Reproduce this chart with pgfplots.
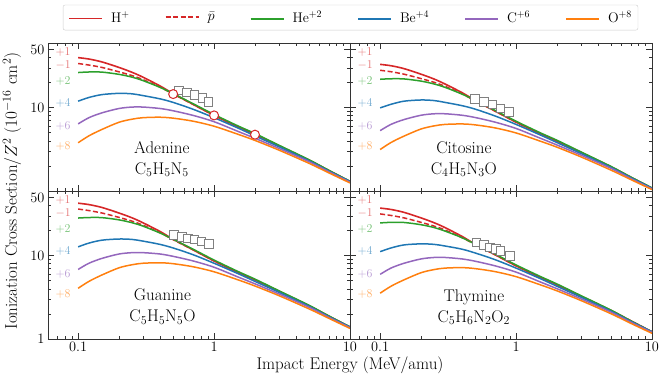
\documentclass[border=0pt]{standalone}
\usepackage{pgfplots}
\pgfplotsset{compat=1.18}
\usepackage{pgfplotstable}

\definecolor{tabred}{HTML}{D62728}
\definecolor{tabgreen}{HTML}{2CA02C}
\definecolor{tabblue}{HTML}{1F77B4}
\definecolor{tabpurple}{HTML}{9467BD}
\definecolor{taborange}{HTML}{FF7F0E}
\definecolor{expgray}{HTML}{808080}

% E (MeV/amu), sigma/Z^2 for H+, pbar, He+2, Be+4, C+6, O+8
\pgfplotstableread{
E    H     P     He    Be    C     O
0.1  40.0  34.0  26.5  12.0  6.4   3.8
0.12 38.5  32.6  26.9  13.3  7.6   4.6
0.15 35.5  30.5  26.8  14.4  8.7   5.5
0.2  30.5  27.0  25.2  14.9  9.8   6.7
0.25 26.6  24.3  23.3  14.7  10.2  7.3
0.3  23.3  21.8  21.2  14.0  10.2  7.6
0.4  18.3  17.7  17.6  12.8  9.8   7.7
0.5  14.8  14.6  14.8  11.6  9.2   7.5
0.7  11.0  11.0  11.2  9.6   8.1   6.9
1    8.1   8.1   8.3   7.6   6.8   6.0
1.5  5.9   5.9   6.05  5.7   5.2   4.8
2    4.8   4.8   4.9   4.6   4.3   4.05
3    3.5   3.5   3.55  3.4   3.25  3.1
5    2.35  2.35  2.37  2.3   2.25  2.15
7    1.76  1.76  1.77  1.73  1.7   1.65
10   1.3   1.3   1.31  1.3   1.28  1.25
}\adenine

\pgfplotstableread{
E    H     P     He    Be    C     O
0.1  33.2  28.2  22.0  9.96  5.31  3.15
0.12 32.0  27.1  22.3  11.0  6.31  3.82
0.15 29.5  25.3  22.2  12.0  7.22  4.57
0.2  25.3  22.4  20.9  12.4  8.13  5.56
0.25 22.1  20.2  19.3  12.2  8.47  6.06
0.3  19.3  18.1  17.6  11.6  8.47  6.31
0.4  15.2  14.7  14.6  10.6  8.13  6.39
0.5  12.3  12.1  12.3  9.63  7.64  6.23
0.7  9.13  9.13  9.30  7.97  6.72  5.73
1    6.72  6.72  6.89  6.31  5.64  4.98
1.5  4.90  4.90  5.02  4.73  4.32  3.98
2    3.98  3.98  4.07  3.82  3.57  3.36
3    2.91  2.91  2.95  2.82  2.70  2.57
5    1.95  1.95  1.97  1.91  1.87  1.78
7    1.46  1.46  1.47  1.44  1.41  1.37
10   1.08  1.08  1.09  1.08  1.06  1.04
}\citosine

\pgfplotstableread{
E    H     P     He    Be    C     O
0.1  42.8  36.4  28.4  12.8  6.85  4.07
0.12 41.2  34.9  28.8  14.2  8.13  4.92
0.15 38.0  32.6  28.7  15.4  9.31  5.89
0.2  32.6  28.9  27.0  15.9  10.5  7.17
0.25 28.5  26.0  24.9  15.7  10.9  7.81
0.3  24.9  23.3  22.7  15.0  10.9  8.13
0.4  19.6  18.9  18.8  13.7  10.5  8.24
0.5  15.8  15.6  15.8  12.4  9.84  8.03
0.7  11.8  11.8  12.0  10.3  8.67  7.38
1    8.67  8.67  8.88  8.13  7.28  6.42
1.5  6.31  6.31  6.47  6.10  5.56  5.14
2    5.14  5.14  5.24  4.92  4.60  4.33
3    3.75  3.75  3.80  3.64  3.48  3.32
5    2.51  2.51  2.54  2.46  2.41  2.30
7    1.88  1.88  1.89  1.85  1.82  1.77
10   1.39  1.39  1.40  1.39  1.37  1.34
}\guanine

\pgfplotstableread{
E    H     P     He    Be    C     O
0.1  37.4  31.8  24.8  11.2  5.98  3.55
0.12 36.0  30.5  25.2  12.4  7.11  4.30
0.15 33.2  28.5  25.1  13.5  8.13  5.14
0.2  28.5  25.2  23.6  13.9  9.16  6.26
0.25 24.9  22.7  21.8  13.7  9.54  6.83
0.3  21.8  20.4  19.8  13.1  9.54  7.11
0.4  17.1  16.5  16.5  12.0  9.16  7.20
0.5  13.8  13.7  13.8  10.8  8.60  7.01
0.7  10.3  10.3  10.5  8.98  7.57  6.45
1    7.57  7.57  7.76  7.11  6.36  5.61
1.5  5.52  5.52  5.66  5.33  4.86  4.49
2    4.49  4.49  4.58  4.30  4.02  3.79
3    3.27  3.27  3.32  3.18  3.04  2.90
5    2.20  2.20  2.22  2.15  2.10  2.01
7    1.65  1.65  1.65  1.62  1.59  1.54
10   1.22  1.22  1.22  1.22  1.20  1.17
}\thymine

\pgfplotsset{
  every axis/.append style={
    scale only axis, width=302bp, height=148bp,
    xmin=0.06, xmax=10, ymin=1, ymax=60,
    xtick={0.1,1,10},
    minor xtick={0.06,0.07,0.08,0.09,0.2,0.3,0.4,0.5,0.6,0.7,0.8,0.9,2,3,4,5,6,7,8,9},
    ytick={1,10,50},
    minor ytick={2,3,4,5,6,7,8,9,20,30,40},
    tick align=inside, xtick pos=both, ytick pos=both,
    major tick length=6bp, minor tick length=3.5bp,
    axis line style={black!80, line width=0.8bp},
    every tick/.style={black!80, line width=0.7bp},
    tick label style={font=\fontsize{14}{16}\selectfont},
  },
}

% legend keys set as coloured rules in the entry text
\newcommand{\keyline}[1]{\textcolor{#1}{\rule[3bp]{33bp}{1.6bp}}\hspace{9bp}}
\newcommand{\keydash}[1]{\textcolor{#1}{\rule[3bp]{5bp}{1.6bp}\hspace{2.5bp}%
  \rule[3bp]{5bp}{1.6bp}\hspace{2.5bp}\rule[3bp]{5bp}{1.6bp}\hspace{2.5bp}%
  \rule[3bp]{5bp}{1.6bp}\hspace{2.5bp}\rule[3bp]{3bp}{1.6bp}}\hspace{9bp}}

\newcommand{\molplots}[2][]{
  \addplot[tabred, line width=1.6bp, smooth, #1] table[x=E, y=H] {#2};
  \addplot[tabred, line width=1.5bp, smooth, dash pattern=on 5bp off 2.5bp, #1] table[x=E, y=P] {#2};
  \addplot[tabgreen, line width=1.5bp, smooth, #1] table[x=E, y=He] {#2};
  \addplot[tabblue, line width=1.5bp, smooth, #1] table[x=E, y=Be] {#2};
  \addplot[tabpurple, line width=1.5bp, smooth, #1] table[x=E, y=C] {#2};
  \addplot[taborange, line width=1.5bp, smooth, #1] table[x=E, y=O] {#2};
}

\newcommand{\charges}{
  \node[tabred!65, inner sep=0pt, font=\fontsize{11.5}{13}\selectfont] at (axis description cs:0.05,0.938) {$+1$};
  \node[tabred!65, inner sep=0pt, font=\fontsize{11.5}{13}\selectfont] at (axis description cs:0.05,0.853) {$-1$};
  \node[tabgreen!65, inner sep=0pt, font=\fontsize{11.5}{13}\selectfont] at (axis description cs:0.05,0.745) {$+2$};
  \node[tabblue!65, inner sep=0pt, font=\fontsize{11.5}{13}\selectfont] at (axis description cs:0.05,0.595) {$+4$};
  \node[tabpurple!65, inner sep=0pt, font=\fontsize{11.5}{13}\selectfont] at (axis description cs:0.05,0.437) {$+6$};
  \node[taborange!65, inner sep=0pt, font=\fontsize{11.5}{13}\selectfont] at (axis description cs:0.05,0.302) {$+8$};
}

\begin{document}
\begin{tikzpicture}
\useasboundingbox (0,0) rectangle (665bp,381bp);

% Adenine (top left)
\begin{loglogaxis}[at={(48bp,190bp)}, anchor=south west,
  xticklabels={}, yticklabels={,$10$,$50$},
  ylabel={Ionization Cross Section/$Z^2$ ($10^{-16}$ cm$^2$)},
  ylabel style={at={(axis description cs:-0.119,0)}, anchor=center,
    font=\fontsize{17}{19}\selectfont},
  legend style={at={(axis description cs:1.0017,1.172)}, anchor=center,
    legend columns=6, draw=black!20, rounded corners=2bp,
    font=\fontsize{14}{16}\selectfont, inner xsep=4bp, inner ysep=4bp,
    /tikz/every odd column/.append style={column sep=0bp},
    /tikz/every even column/.append style={column sep=32bp}},
]
\addlegendimage{empty legend}
\addlegendimage{empty legend}
\addlegendimage{empty legend}
\addlegendimage{empty legend}
\addlegendimage{empty legend}
\addlegendimage{empty legend}
\molplots[forget plot]{\adenine}
\addplot[only marks, mark=square*, mark size=4.3bp,
  mark options={fill=white, draw=expgray, line width=1bp}, forget plot]
  coordinates {(0.55,16.1) (0.63,15.2) (0.72,14.2) (0.82,13.2) (0.91,11.8)};
\addplot[only marks, mark=*, mark size=4.5bp,
  mark options={fill=white, draw=tabred, line width=1bp}, forget plot]
  coordinates {(0.5,14.6) (1,8.1) (2,4.75)};
\legend{\keyline{tabred}H$^+$, \keydash{tabred}$\bar{p}$,
  \keyline{tabgreen}He$^{+2}$, \keyline{tabblue}Be$^{+4}$,
  \keyline{tabpurple}C$^{+6}$, \keyline{taborange}O$^{+8}$}
\charges
\node[align=center, font=\fontsize{17}{21}\selectfont]
  at (axis description cs:0.377,0.215) {Adenine\\C$_5$H$_5$N$_5$};
\end{loglogaxis}

% Citosine (top right)
\begin{loglogaxis}[at={(350bp,190bp)}, anchor=south west,
  xticklabels={}, yticklabels={}]
\molplots{\citosine}
\addplot[only marks, mark=square*, mark size=4.3bp,
  mark options={fill=white, draw=expgray, line width=1bp}]
  coordinates {(0.50,12.8) (0.58,11.8) (0.67,11.0) (0.77,9.8) (0.89,8.95)};
\charges
\node[align=center, font=\fontsize{17}{21}\selectfont]
  at (axis description cs:0.377,0.215) {Citosine\\C$_4$H$_5$N$_3$O};
\end{loglogaxis}

% Guanine (bottom left)
\begin{loglogaxis}[at={(48bp,42bp)}, anchor=south west,
  xticklabels={$0.1$,$1$,$10$},
  yticklabels={$1$,$10$,$50$},
  xlabel={Impact Energy (MeV/amu)},
  xlabel style={at={(axis description cs:1.0,-0.176)}, anchor=center,
    font=\fontsize{17}{19}\selectfont},
]
\molplots{\guanine}
\addplot[only marks, mark=square*, mark size=4.3bp,
  mark options={fill=white, draw=expgray, line width=1bp}]
  coordinates {(0.505,17.8) (0.58,16.9) (0.64,16.2) (0.72,15.6) (0.81,14.8) (0.92,13.8)};
\charges
\node[align=center, font=\fontsize{17}{21}\selectfont]
  at (axis description cs:0.379,0.218) {Guanine\\C$_5$H$_5$N$_5$O};
\end{loglogaxis}

% Thymine (bottom right)
\begin{loglogaxis}[at={(350bp,42bp)}, anchor=south west,
  xticklabels={$0.1$,$1$,$10$}, yticklabels={}]
\molplots{\thymine}
\addplot[only marks, mark=square*, mark size=4.3bp,
  mark options={fill=white, draw=expgray, line width=1bp}]
  coordinates {(0.51,14.5) (0.58,13.5) (0.64,12.6) (0.71,12.0) (0.77,11.5) (0.90,10.0)};
\charges
\node[align=center, font=\fontsize{17}{21}\selectfont]
  at (axis description cs:0.41,0.215) {Thymine\\C$_5$H$_6$N$_2$O$_2$};
\end{loglogaxis}
\end{tikzpicture}
\end{document}
